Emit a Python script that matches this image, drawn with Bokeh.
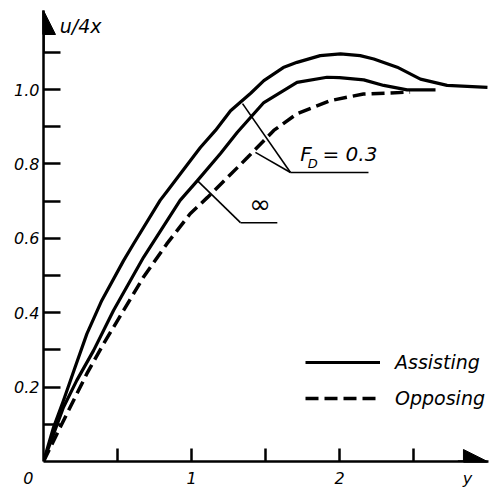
from bokeh.plotting import figure
from bokeh.models import (Range1d, FixedTicker, Label, Arrow, NormalHead, Legend, LegendItem,
                          CustomJSTickFormatter)
from bokeh.embed import file_html
from bokeh.resources import INLINE

# ---- data ----
assist_03_x = [0, 0.068, 0.135, 0.214, 0.293, 0.394, 0.541, 0.61, 0.788, 0.838, 0.993, 1.06, 1.162, 1.264,
               1.40, 1.489, 1.62, 1.713, 1.87, 2.007, 2.14, 2.232, 2.39, 2.547, 2.727, 3.0]
assist_03_y = [0, 0.092, 0.164, 0.254, 0.343, 0.433, 0.540, 0.586, 0.702, 0.728, 0.809, 0.844, 0.890, 0.943,
               0.99, 1.024, 1.059, 1.073, 1.091, 1.096, 1.091, 1.082, 1.060, 1.028, 1.011, 1.006]

inf_x = [0, 0.135, 0.225, 0.338, 0.473, 0.676, 0.923, 1.04, 1.196, 1.31, 1.489, 1.713, 1.916, 2.0,
         2.164, 2.299, 2.457, 2.649]
inf_y = [0, 0.146, 0.218, 0.298, 0.406, 0.549, 0.702, 0.755, 0.828, 0.885, 0.965, 1.019, 1.033, 1.032,
         1.026, 1.011, 0.999, 0.999]

oppose_03_x = [0, 0.113, 0.203, 0.293, 0.405, 0.541, 0.676, 0.833, 0.991, 1.108, 1.31, 1.378, 1.556,
               1.713, 1.937, 2.162, 2.477]
oppose_03_y = [0, 0.092, 0.164, 0.236, 0.316, 0.406, 0.496, 0.585, 0.666, 0.71, 0.79, 0.817, 0.89,
               0.935, 0.970, 0.988, 0.993]

y_major = [0.2, 0.4, 0.6, 0.8, 1.0]
y_minor = [0.1, 0.3, 0.5, 0.7, 0.9, 1.1]
x_label_ticks = [0, 1, 2, 2.865]          # "0", "1", "2" and the axis name "y"
x_tick_marks = [0.5, 1, 1.5, 2, 2.5]

series_names = ["Assisting", "Opposing"]
fd_label = "= 0.3"
inf_label = "\u221e"
y_title = "u/4x"
x_title = "y"

# leader-line anchor points (annotation positions, data units)
fd_anchor = (1.669, 0.777)
fd_targets = [(1.345, 0.962), (1.432, 0.831)]
fd_line_end = 2.196
inf_anchor = (1.331, 0.642)
inf_target = (1.04, 0.755)
inf_line_end = 1.58

FONT = "DejaVu Sans"

p = figure(width=490, height=490, output_backend="svg", toolbar_location=None,
           x_range=Range1d(0, 3.007), y_range=Range1d(0, 1.2124),
           min_border_left=43, min_border_right=2, min_border_top=10, min_border_bottom=29)
p.outline_line_color = None
p.xgrid.visible = False
p.ygrid.visible = False
p.background_fill_color = "white"
p.border_fill_color = "white"

# axes
for ax in (p.xaxis[0], p.yaxis[0]):
    ax.axis_line_width = 2.5
    ax.axis_line_color = "black"
    ax.major_tick_out = 0
    ax.minor_tick_out = 0
    ax.major_tick_line_width = 2.5
    ax.minor_tick_line_width = 2.5
    ax.major_label_text_font = FONT
    ax.major_label_text_font_style = "italic"
    ax.major_label_text_font_size = "16px"
    ax.major_label_text_color = "black"

p.yaxis.ticker = FixedTicker(ticks=y_major, minor_ticks=y_minor)
p.yaxis.major_tick_in = 17
p.yaxis.minor_tick_in = 17
p.yaxis.major_label_standoff = 4
p.yaxis.formatter = CustomJSTickFormatter(code="return tick.toFixed(1);")

p.xaxis.ticker = FixedTicker(ticks=x_label_ticks, minor_ticks=x_tick_marks)
p.xaxis.major_tick_in = 0
p.xaxis.minor_tick_in = 13
p.xaxis.major_label_standoff = 7
p.xaxis.formatter = CustomJSTickFormatter(args=dict(name=x_title), code="""
if (tick == 0) { return "0" + "\\u00a0".repeat(6); }
if (tick > 2.5) { return name; }
return tick.toFixed(0);
""")

# arrow heads on axes
p.add_layout(Arrow(end=NormalHead(size=24, fill_color="black", line_color="black"),
                   x_start=0, y_start=1.10, x_end=0, y_end=1.2124, line_width=2.5))
p.add_layout(Arrow(end=NormalHead(size=24, fill_color="black", line_color="black"),
                   x_start=2.8, y_start=0, x_end=3.0, y_end=0, line_width=2.5))

# curves
r1 = p.line(assist_03_x, assist_03_y, line_width=3.2, line_color="black", line_join="round")
r2 = p.line(inf_x, inf_y, line_width=3.2, line_color="black", line_join="round")
r3 = p.line(oppose_03_x, oppose_03_y, line_width=3.5, line_color="black", line_dash="13 6")

# leader lines
for tx, ty in fd_targets:
    p.line([fd_anchor[0], tx], [fd_anchor[1], ty], line_width=1.6, line_color="black")
p.line([fd_anchor[0], fd_line_end], [fd_anchor[1], fd_anchor[1]], line_width=1.6, line_color="black")
p.line([inf_anchor[0], inf_target[0]], [inf_anchor[1], inf_target[1]], line_width=1.6, line_color="black")
p.line([inf_anchor[0], inf_line_end], [inf_anchor[1], inf_anchor[1]], line_width=1.6, line_color="black")

# annotation texts
def lab(text, x, y, size, **kw):
    l = Label(x=x, y=y, text=text, text_font=FONT, text_font_style="italic",
              text_font_size=size, text_color="black", **kw)
    p.add_layout(l)
    return l

lab("F", 1.735, 0.795, "20px")
lab("D", 1.785, 0.782, "13px")
lab(fd_label, 1.885, 0.795, "20px")
lab(inf_label, 1.39, 0.652, "26px")
lab(y_title, 0.11, 1.141, "19px")

# legend
legend = Legend(items=[LegendItem(label=series_names[0], renderers=[r1]),
                       LegendItem(label=series_names[1], renderers=[r3])],
                location=(262, 52), orientation="vertical",
                glyph_width=75, glyph_height=20, label_height=20, spacing=14,
                label_standoff=15, padding=0, margin=0,
                border_line_color=None, background_fill_alpha=0,
                label_text_font=FONT, label_text_font_style="italic",
                label_text_font_size="19px", label_text_color="black")
p.add_layout(legend)

open("out.html", "w").write(file_html(p, INLINE))
